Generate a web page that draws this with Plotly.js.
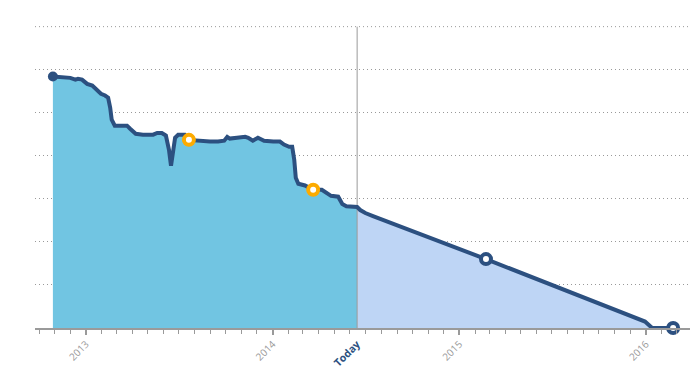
<!DOCTYPE html>
<html>
<head>
<meta charset="utf-8">
<script src="https://cdn.plot.ly/plotly-3.0.1.min.js"></script>
<style>html,body{margin:0;padding:0;background:#fff;}#chart{width:692px;height:379px;}</style>
</head>
<body>
<div id="chart"></div>
<script>
// Past (actual) burndown
const pastDates = ["2012-10-28","2012-11-21","2012-12-01","2012-12-11","2012-12-16","2012-12-24","2013-01-03","2013-01-13","2013-01-22","2013-01-30","2013-02-07","2013-02-13","2013-02-17","2013-02-20","2013-02-26","2013-03-04","2013-03-22","2013-03-28","2013-04-03","2013-04-08","2013-04-22","2013-05-12","2013-05-20","2013-05-29","2013-06-06","2013-06-12","2013-06-16","2013-06-20","2013-06-24","2013-06-30","2013-07-13","2013-07-21","2013-08-06","2013-08-31","2013-09-16","2013-09-28","2013-10-04","2013-10-09","2013-10-23","2013-11-08","2013-11-14","2013-11-23","2013-12-03","2013-12-15","2014-01-02","2014-01-15","2014-01-23","2014-02-02","2014-02-08","2014-02-12","2014-02-15","2014-02-20","2014-03-05","2014-03-21","2014-04-07","2014-04-17","2014-04-25","2014-05-09","2014-05-17","2014-05-25","2014-06-15"];
const pastValues = [584,581,581,577,579,577,567,563,553,544,540,535,512,484,470,470,470,463,458,451,449,449,453,453,447,414,377,407,442,449,449,437,435,433,433,435,444,440,442,444,442,435,442,435,433,433,426,421,421,391,349,335,331,321,321,314,307,305,288,283,281];
// Projected burndown
const futureDates = ["2014-06-15","2014-06-21","2014-07-01","2014-07-16","2015-02-22","2015-12-30","2016-01-13","2016-02-23"];
const futureValues = [281,274,267,260,160,15,0,0];
// Milestones
const startDate = ["2012-10-28"], startValue = [584];
const orangeDates = ["2013-07-21","2014-03-21"], orangeValues = [437,321];
const blueRingDates = ["2015-02-22","2016-02-23"], blueRingValues = [160,0];
const todayDate = "2014-06-15";
const yearTicks = ["2013-01-01","2014-01-01","2015-01-01","2016-01-01"];
const yearLabels = ["2013","2014","2015","2016"];
const gridValues = [100,200,300,400,500,600,700];
const yMax = 700;

const lineColor = "#2c5080";
const traces = [
  {x: pastDates, y: pastValues, type:"scatter", mode:"none", fill:"tozeroy", fillcolor:"#71c5e2", hoverinfo:"skip"},
  {x: futureDates.slice(0,7), y: futureValues.slice(0,7), type:"scatter", mode:"none", fill:"tozeroy", fillcolor:"#bed5f5", hoverinfo:"skip"},
  {x: [todayDate, todayDate], y: [0, yMax], type:"scatter", mode:"lines", line:{color:"#9a9a9a", width:1}, hoverinfo:"skip"},
  {x: pastDates.concat(futureDates.slice(1)), y: pastValues.concat(futureValues.slice(1)), type:"scatter", mode:"lines", line:{color:lineColor, width:4, shape:"linear"}},
  {x: startDate, y: startValue, type:"scatter", mode:"markers", marker:{color:lineColor, size:10}},
  {x: orangeDates, y: orangeValues, type:"scatter", mode:"markers", marker:{color:"#ffffff", size:10, line:{color:"#fdab00", width:4}}},
  {x: blueRingDates, y: blueRingValues, type:"scatter", mode:"markers", marker:{color:"#ffffff", size:10, line:{color:lineColor, width:4}}, cliponaxis:false},
  {x: [todayDate], y: [0], xaxis:"x2", type:"scatter", mode:"markers", marker:{opacity:0}, hoverinfo:"skip"}
];

const xr = ["2012-09-23","2016-03-27"];
const layout = {
  width: 692, height: 379,
  margin: {l:35, r:2, t:26, b:51},
  paper_bgcolor:"#ffffff", plot_bgcolor:"#ffffff",
  showlegend:false,
  font:{family:"Open Sans, sans-serif"},
  xaxis: {
    type:"date", range: xr,
    tickvals: yearTicks, ticktext: yearLabels,
    tickangle:-45, tickfont:{size:10, color:"#9a9a9a"},
    ticks:"outside", ticklen:5, tickwidth:2, tickcolor:"#9a9a9a",
    minor:{dtick:"M1", tick0:"2013-01-01", ticks:"outside", ticklen:4, tickwidth:1, tickcolor:"#9a9a9a", showgrid:false},
    showline:true, linecolor:"#9a9a9a", linewidth:1.5,
    showgrid:false, zeroline:false, fixedrange:true
  },
  xaxis2: {
    type:"date", overlaying:"x", matches:"x", side:"bottom", range: xr,
    tickvals:[todayDate], ticktext:["<b>Today</b>"],
    tickangle:-45, tickfont:{size:10.5, color:lineColor},
    ticks:"outside", ticklen:5, tickcolor:"rgba(0,0,0,0)",
    showline:false, showgrid:false, zeroline:false
  },
  yaxis: {
    range:[0,701.5], tickvals:gridValues, showticklabels:false, ticks:"",
    showgrid:true, gridcolor:"#999999", griddash:"1px,3px", gridwidth:1,
    zeroline:false, showline:false, fixedrange:true
  },
  shapes: [
    {type:"line", xref:"paper", yref:"y", x0:0, x1:1, y0:yMax, y1:yMax, layer:"below",
     line:{color:"#999999", width:1, dash:"1px,3px"}}
  ]
};
Plotly.newPlot("chart", traces, layout, {displayModeBar:false, staticPlot:true});
</script>
</body>
</html>
